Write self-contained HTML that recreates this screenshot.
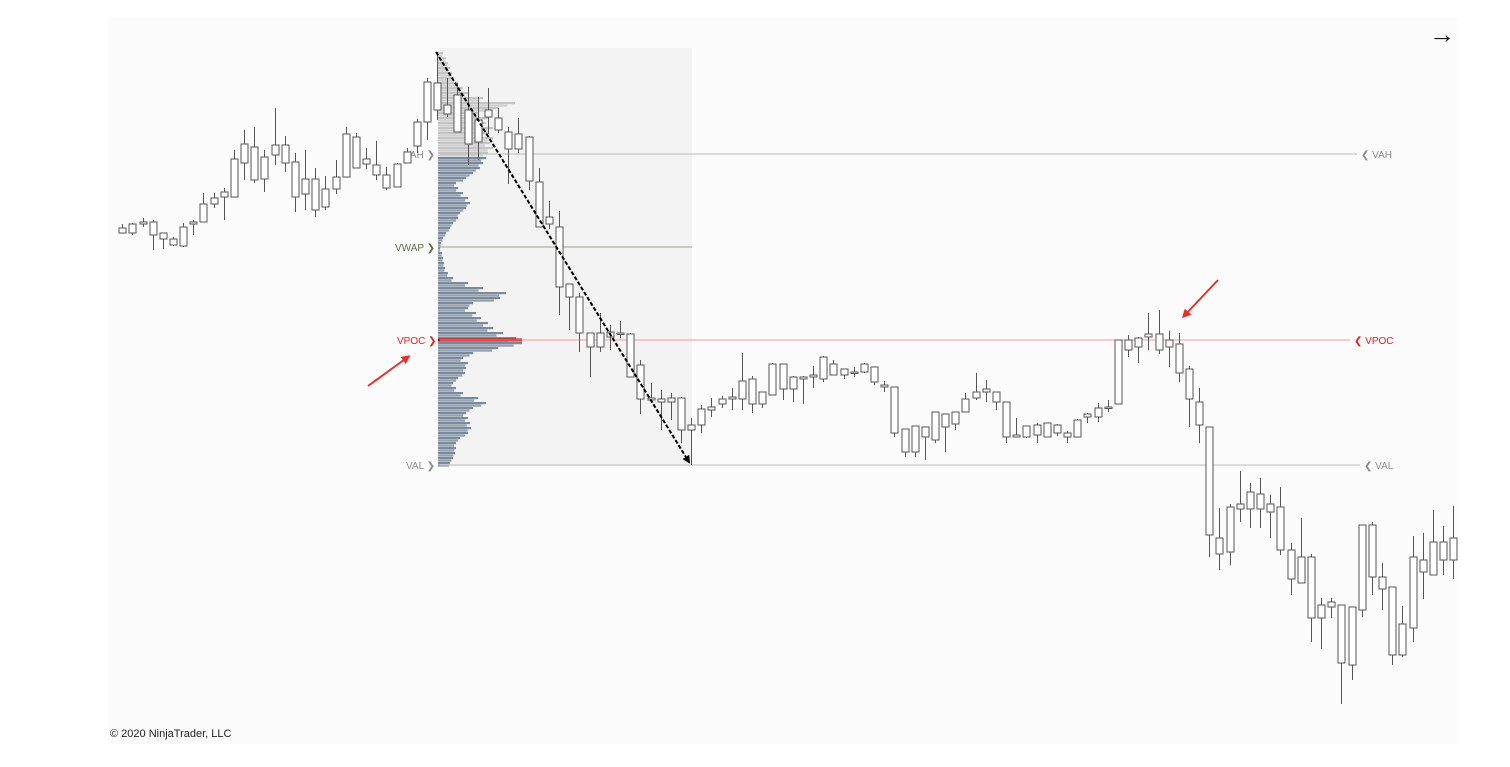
<!DOCTYPE html>
<html><head><meta charset="utf-8"><style>
html,body{margin:0;padding:0;background:#fff;width:1510px;height:767px;overflow:hidden}
svg{display:block;font-family:"Liberation Sans",sans-serif}
</style></head><body>
<svg id="chart" width="1510" height="767" xmlns="http://www.w3.org/2000/svg">
<rect x="108" y="18" width="1350" height="726" fill="#fbfbfb"/>
<rect x="438" y="48" width="254" height="418" fill="#f3f3f3"/>
<g id="profile"></g>
<g id="levels"></g>
<g id="candles"></g>
<g id="ann"></g>
<text x="110" y="737" font-size="11" fill="#222">© 2020 NinjaTrader, LLC</text>
<text x="1429" y="43" font-size="26" font-weight="bold" fill="#111">→</text>
</svg>
<script>
// OHLC as [open, high, low, close]
const ohlc = [
[567,576,567,572],[567,577,565,576],[576,582,573,578],[565,580,550,578],[561,567,551,567],[555,563,554,561],[554,577,553,573],[576,580,565,578],[578,607,578,596],[596,607,592,602],
[603,612,580,608],[603,650,603,641],[637,670,620,656],[620,673,617,653],[621,650,608,643],[645,692,635,655],[637,664,628,655],[603,647,588,638],[606,650,590,621],[590,632,583,621],
[593,624,590,611],[611,640,606,623],[623,673,623,666],[632,667,632,663],[636,652,631,641],[625,659,620,635],[612,633,610,625],[613,637,613,636],[637,652,637,648],[654,681,647,678],
[678,722,660,718],[690,748,680,717],[686,722,683,695],[668,717,668,705],[656,713,635,690],[658,703,640,680],[683,712,666,690],[670,692,667,682],[651,673,616,668],[651,682,647,666],
[619,664,610,663],[573,632,573,618],[576,599,571,583],[513,589,485,573],[503,516,470,516],[467,507,448,503],[453,467,423,467],[453,487,448,467],[463,475,450,468],[466,479,462,467],
[423,467,423,466],[401,440,386,435],[400,417,397,402],[398,410,370,401],[398,407,380,402],[370,403,357,402],[370,382,335,375],[375,395,367,391],[390,402,383,393],[396,404,392,401],
[401,412,390,403],[401,447,390,419],[396,424,387,421],[396,408,392,408],[405,437,405,436],[411,436,400,436],[411,424,398,423],[421,424,396,423],[423,434,412,425],[421,444,418,443],
[425,440,425,436],[425,431,421,431],[427,433,423,428],[428,437,427,436],[418,433,415,433],[413,419,408,415],[367,413,363,413],[348,371,343,371],[348,374,343,374],[363,373,340,373],
[360,388,357,388],[373,386,348,386],[376,388,370,388],[388,407,388,401],[402,427,400,408],[408,420,398,411],[398,408,390,408],[363,398,357,398],[363,382,363,365],[363,374,362,374],
[365,377,357,375],[363,377,363,377],[367,376,364,375],[363,369,357,367],[363,381,363,380],[383,387,377,386],[383,397,378,392],[392,400,388,393],[396,460,396,460],[450,465,443,460],
[453,463,437,462],[463,487,450,466],[450,490,446,466],[453,469,433,460],[427,467,418,456],[401,434,373,431],[375,412,357,398],[265,373,243,373],[246,292,230,262],[248,296,235,293],
[291,329,278,296],[291,317,272,308],[291,322,272,306],[288,305,262,296],[250,313,245,293],[221,257,205,250],[217,282,217,243],[182,246,158,243],[182,202,151,195],[193,202,182,198],
[137,195,96,195],[135,193,120,193],[190,275,183,275],[223,278,205,275],[211,237,190,223],[145,213,135,213],[145,194,143,176],[172,264,158,243],[228,267,201,240],[225,290,225,258],
[240,274,225,258],[240,294,221,262]
];
const profileTopPrice = 748;
const profileVolumes = [5,8,10,12,14,16,20,25,30,45,77,60,40,50,48,55,50,55,52,55,50,
48,45,42,35,28,18,20,25,30,32,28,22,20,15,12,8,5,3,2,4,5,6,7,10,15,30,45,68,62,35,30,38,43,50,55,65,78,84,60,35,25,30,28,27,20,15,18,25,40,48,35,28,30,32,33,30,22,18,18,17,15,12];
const levelNames = ["VAH","VWAP","VPOC","VAL"];
const levelPrices = [646,553,460,335];

const NS="http://www.w3.org/2000/svg";
function yS(p){return 800-p;}
function xS(i){return 122.2+i*10.16;}
function mk(tag,attrs,parent){const e=document.createElementNS(NS,tag);for(const k in attrs)e.setAttribute(k,attrs[k]);parent.appendChild(e);return e;}

const prof=document.getElementById('profile');
const rowH=5, vaIdx=levelPrices[0];
profileVolumes.forEach((v,i)=>{
  const p=profileTopPrice-i*rowH;
  const up=p>vaIdx;
  const r1=mk('rect',{x:438,y:yS(p),width:v,height:2.2,fill:(up?'#c4c4c4':'#7a8a9c')},prof);
  
  
  const r2=mk('rect',{x:438,y:yS(p)+2.5,width:v*0.9,height:2.2,fill:(up?'#d0d0d0':'#93a1b0')},prof);
  
  
});
const vpoc=mk('rect',{x:438,y:yS(levelPrices[2])-1.5,width:84,height:3,fill:'#e00000'},prof);



const lv=document.getElementById('levels');
const lvCfg={VAH:{c:'#bbbbbb',t:'#8a8a8a',x2:1357,lx:404},VWAP:{c:'#9aa48a',t:'#5e6e44',x2:692,lx:395},VPOC:{c:'#ef9a9a',t:'#e02020',x2:1350,lx:397},VAL:{c:'#bbbbbb',t:'#8a8a8a',x2:1360,lx:406}};
levelNames.forEach((n,i)=>{
  const y=yS(levelPrices[i]);const c=lvCfg[n];
  const l=mk('line',{x1:440,x2:c.x2,y1:y,y2:y,stroke:c.c,'stroke-width':1},lv);
  
  
  const t=mk('text',{x:c.lx,y:y+4,'font-size':10,fill:c.t},lv);t.textContent=n+' ❯';
  
  
  if(n!=='VWAP'){
    const t2=mk('text',{x:c.x2+4,y:y+4,'font-size':10,fill:c.t},lv);t2.textContent='❮ '+n;
    
    
  }
});

const cg=document.getElementById('candles');
ohlc.forEach((d,i)=>{
  const [o,h,l,c]=d;const x=Math.round(xS(i))+0.5;
  const g=mk('g',{},cg);
  
  
  mk('line',{x1:x,x2:x,y1:yS(h),y2:yS(l),stroke:'#555','stroke-width':1},g);
  const top=yS(Math.max(o,c)),bot=yS(Math.min(o,c));
  mk('rect',{x:x-3.5,y:top,width:7,height:Math.max(bot-top,1.5),fill:'#fff',stroke:'#555','stroke-width':1},g);
});

const an=document.getElementById('ann');
const defs=mk('defs',{},an);
const m1=mk('marker',{id:'ah',markerWidth:8,markerHeight:8,refX:6,refY:4,orient:'auto',markerUnits:'userSpaceOnUse'},defs);
mk('path',{d:'M0,0 L8,4 L0,8 Z',fill:'#000'},m1);
const m2=mk('marker',{id:'ahr',markerWidth:9,markerHeight:9,refX:6,refY:4.5,orient:'auto',markerUnits:'userSpaceOnUse'},defs);
mk('path',{d:'M0,0 L9,4.5 L0,9 Z',fill:'#e53030'},m2);
const dl=mk('line',{x1:436,y1:52,x2:689,y2:462,stroke:'#000','stroke-width':2,'stroke-dasharray':'4,2','marker-end':'url(#ah)'},an);


const a1=mk('line',{x1:368,y1:386,x2:408,y2:357,stroke:'#e53030','stroke-width':2,'marker-end':'url(#ahr)'},an);


const a2=mk('line',{x1:1218,y1:280,x2:1184,y2:316,stroke:'#e53030','stroke-width':2,'marker-end':'url(#ahr)'},an);


</script>
</body></html>
